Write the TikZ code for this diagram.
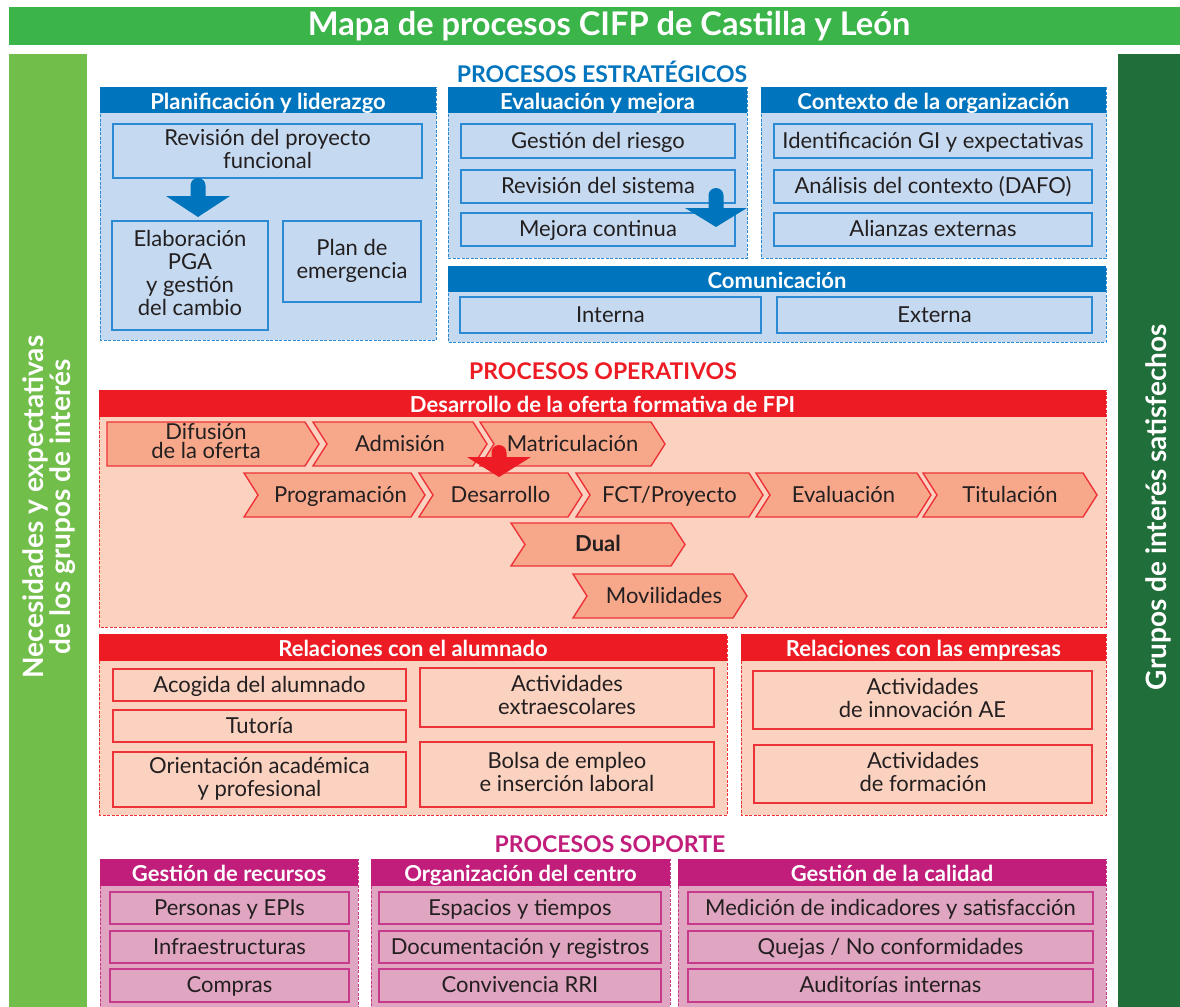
\documentclass[tikz,border=0pt]{standalone}
\usepackage{fontspec}
\setmainfont{Lato}
\usepackage{tikz}

\definecolor{verdetit}{HTML}{3BB54A}
\definecolor{verdeizq}{HTML}{72BE4B}
\definecolor{verdeder}{HTML}{206E39}
\definecolor{texto}{HTML}{231F20}
\definecolor{azul}{HTML}{0074BD}
\definecolor{azulclaro}{HTML}{C5DAF0}
\definecolor{azulborde}{HTML}{2B8AD2}
\definecolor{rojo}{HTML}{ED1C24}
\definecolor{rojoclaro}{HTML}{FBD1BF}
\definecolor{rojoborde}{HTML}{EE3338}
\definecolor{salmon}{HTML}{F7A88B}
\definecolor{magenta}{HTML}{C11D7B}
\definecolor{magclaro}{HTML}{E0A5C1}
\definecolor{magborde}{HTML}{C73A8B}

\newcommand{\puntal}{\rule[-2.6pt]{0pt}{12.6pt}}

\tikzset{
	titulo/.style={text=white, font=\bfseries\fontsize{16.3}{18}\selectfont},
	lateral/.style={text=white, font=\bfseries\fontsize{14}{12.5}\selectfont, align=center, rotate=90},
	seccion/.style={font=\bfseries\fontsize{11.5}{14}\selectfont},
	cabecera/.style={text=white, font=\bfseries\fontsize{11}{12}\selectfont, inner sep=0pt, text height=9pt, text depth=0pt},
	caja/.style={text=texto, font=\fontsize{11}{11.5}\selectfont, align=center, inner sep=0pt, line width=0.7pt,
		execute at begin node=\puntal, execute at end node=\puntal},
	multi/.style={execute at begin node=\rule{0pt}{12.8pt}},
	grupo/.style={line width=0.5pt, dash pattern=on 1.5pt off 0.75pt},
	azulgrupo/.style={grupo, fill=azulclaro, draw=azulborde},
	azulcab/.style={cabecera, fill=azul},
	azulcaja/.style={caja, fill=azulclaro, draw=azulborde},
	rojogrupo/.style={grupo, fill=rojoclaro, draw=rojoborde},
	rojocab/.style={cabecera, fill=rojo},
	rojocaja/.style={caja, fill=rojoclaro, draw=rojoborde},
	maggrupo/.style={grupo, fill=magclaro, draw=magborde},
	magcab/.style={cabecera, fill=magenta},
	magcaja/.style={caja, fill=magclaro, draw=magborde},
	chev/.style={fill=salmon, draw=rojoborde, line width=0.7pt},
	chevtxt/.style={text=texto, font=\fontsize{11}{9.5}\selectfont, align=center, inner sep=0pt,
		execute at begin node=\puntal, execute at end node=\puntal},
	chevnegrita/.style={chevtxt, font=\bfseries\fontsize{11}{9.5}\selectfont}
}

% grupo: color, nombre, x1, y1, x2, y2, fin de cabecera, titulo
\newcommand{\grupo}[8]{%
	\filldraw[#1grupo] (#3,#4) rectangle (#5,#6);
	\node[#1cab, minimum width={(#5-#3)*0.5pt}, minimum height={(#7-#4)*0.5pt}] (#2) at ({(#3+#5)/2},{(#4+#7)/2}) {#8};}
% caja: estilo, nombre, x1, y1, x2, y2, texto
\newcommand{\caja}[7]{%
	\node[#1, minimum width={(#5-#3)*0.5pt}, minimum height={(#6-#4)*0.5pt}] (#2) at ({(#3+#5)/2},{(#4+#6)/2}) {#7};}
% chevron: estilo, nombre, muesca, x izq, x der, y sup, y inf, texto
\newcommand{\chevron}[8]{%
	\filldraw[chev] (#4,#6) -- (#5,#6) -- ({#5+14},{(#6+#7)/2}) -- (#5,#7) -- (#4,#7) -- ({#4+#3},{(#6+#7)/2}) -- cycle;
	\node[#1] (#2) at ({(#4+#5+#3)/2},{(#6+#7)/2}) {#8};}
% flecha gruesa: color, x, y sup, y cabeza, y punta, media cabeza
\newcommand{\flechon}[6]{%
	\fill[#1] ({#2-7.5},#4) -- ({#2-7.5},{#3+7.5}) arc[start angle=180, end angle=0, radius=3.75pt] -- ({#2+7.5},#4) -- ({#2+#6},#4) -- (#2,#5) -- ({#2-#6},#4) -- cycle;}

\begin{document}
\begin{tikzpicture}[x=0.5pt,y=-0.5pt]
	\useasboundingbox (0,0) rectangle (1180,1007);

	\fill[verdetit] (9,7) rectangle (1180,45);
	\node[titulo] (titulo) at (609,26) {Mapa de procesos CIFP de Castilla y León};
	\fill[verdeizq] (9,54) rectangle (87,1007);
	\node[lateral] (necesidades) at (49,507) {Necesidades y expectativas\\de los grupos de interés};
	\fill[verdeder] (1118,54) rectangle (1180,1007);
	\node[lateral] (satisfechos) at (1158,507) {Grupos de interés satisfechos};

	% estrategicos
	\node[seccion, text=azul] (estrategicos) at (602,72) {PROCESOS ESTRATÉGICOS};
	\grupo{azul}{plan}{100}{87}{436}{340}{113}{Planificación y liderazgo}
	\grupo{azul}{evaluacion}{448}{87}{747}{258}{113}{Evaluación y mejora}
	\grupo{azul}{contexto}{761}{87}{1106}{258}{113}{Contexto de la organización}
	\grupo{azul}{comunicacion}{448}{266}{1106}{342}{292}{Comunicación}

	\caja{azulcaja,multi}{proyecto}{113}{124}{422}{178}{Revisión del proyecto\\funcional}
	\caja{azulcaja,multi}{pga}{112}{221}{268}{330}{Elaboración\\PGA\\y gestión\\del cambio}
	\caja{azulcaja,multi}{emergencia}{283}{221}{421}{302}{Plan de\\emergencia}
	\caja{azulcaja}{riesgo}{461}{124}{735}{158}{Gestión del riesgo}
	\caja{azulcaja}{sistema}{461}{170}{735}{203}{Revisión del sistema}
	\caja{azulcaja}{mejora}{461}{213}{735}{246}{Mejora continua}
	\caja{azulcaja}{identificacion}{774}{124}{1092}{158}{Identificación GI y expectativas}
	\caja{azulcaja}{dafo}{774}{170}{1092}{203}{Análisis del contexto (DAFO)}
	\caja{azulcaja}{alianzas}{774}{213}{1092}{246}{Alianzas externas}
	\caja{azulcaja}{interna}{460}{297}{761}{333}{Interna}
	\caja{azulcaja}{externa}{777}{297}{1092}{333}{Externa}

	\flechon{azul}{198}{178}{196}{217}{32}
	\flechon{azul}{716}{188}{208}{227}{31}

	% operativos
	\node[seccion, text=rojo] (operativos) at (603,371) {PROCESOS OPERATIVOS};
	\grupo{rojo}{oferta}{99}{390}{1106}{627}{417}{Desarrollo de la oferta formativa de FPI}
	\chevron{chevtxt,multi}{difusion}{0}{107}{305}{422}{466}{Difusión\\de la oferta}
	\chevron{chevtxt}{admision}{14}{313}{473}{422}{466}{Admisión}
	\chevron{chevtxt}{matricula}{14}{480}{651}{422}{466}{Matriculación}
	\chevron{chevtxt,xshift=3pt}{programacion}{14}{244}{411}{473}{517}{Programación}
	\chevron{chevtxt}{desarrollo}{14}{419}{568}{473}{517}{Desarrollo}
	\chevron{chevtxt}{fct}{14}{576}{749}{473}{517}{FCT/Proyecto}
	\chevron{chevtxt}{evaluacionfp}{14}{756}{917}{473}{517}{Evaluación}
	\chevron{chevtxt}{titulacion}{14}{923}{1083}{473}{517}{Titulación}
	\chevron{chevnegrita}{dual}{14}{511}{671}{523}{566}{Dual}
	\chevron{chevtxt,xshift=2pt}{movilidades}{14}{573}{733}{574}{618}{Movilidades}
	\flechon{rojo}{499}{445}{457}{477}{32}

	\grupo{rojo}{alumnado}{99}{634}{727}{815}{661}{Relaciones con el alumnado}
	\grupo{rojo}{empresas}{741}{634}{1106}{815}{661}{Relaciones con las empresas}
	\caja{rojocaja}{acogida}{113}{669}{406}{701}{Acogida del alumnado}
	\caja{rojocaja}{tutoria}{113}{710}{406}{742}{Tutoría}
	\caja{rojocaja,multi}{orientacion}{113}{752}{406}{807}{Orientación académica\\y profesional}
	\caja{rojocaja,multi}{extraescolares}{420}{668}{714}{727}{Actividades\\extraescolares}
	\caja{rojocaja,multi}{bolsa}{420}{742}{714}{807}{Bolsa de empleo\\e inserción laboral}
	\caja{rojocaja,multi}{innovacion}{753}{671}{1092}{729}{Actividades\\de innovación AE}
	\caja{rojocaja,multi}{formacion}{754}{745}{1092}{803}{Actividades\\de formación}

	% soporte
	\node[seccion, text=magenta] (soporte) at (610,844) {PROCESOS SOPORTE};
	\grupo{mag}{recursos}{100}{859}{358}{1012}{886}{Gestión de recursos}
	\grupo{mag}{organizacion}{371}{859}{670}{1012}{886}{Organización del centro}
	\grupo{mag}{calidad}{678}{859}{1106}{1012}{886}{Gestión de la calidad}
	\caja{magcaja}{personas}{110}{892}{349}{924}{Personas y EPIs}
	\caja{magcaja}{infraestructuras}{110}{931}{349}{963}{Infraestructuras}
	\caja{magcaja}{compras}{110}{969}{349}{1002}{Compras}
	\caja{magcaja}{espacios}{379}{892}{661}{924}{Espacios y tiempos}
	\caja{magcaja}{documentacion}{379}{931}{661}{963}{Documentación y registros}
	\caja{magcaja}{convivencia}{379}{969}{661}{1002}{Convivencia RRI}
	\caja{magcaja}{medicion}{688}{892}{1093}{924}{Medición de indicadores y satisfacción}
	\caja{magcaja}{quejas}{688}{931}{1093}{963}{Quejas / No conformidades}
	\caja{magcaja}{auditorias}{688}{969}{1093}{1002}{Auditorías internas}
\end{tikzpicture}
\end{document}
